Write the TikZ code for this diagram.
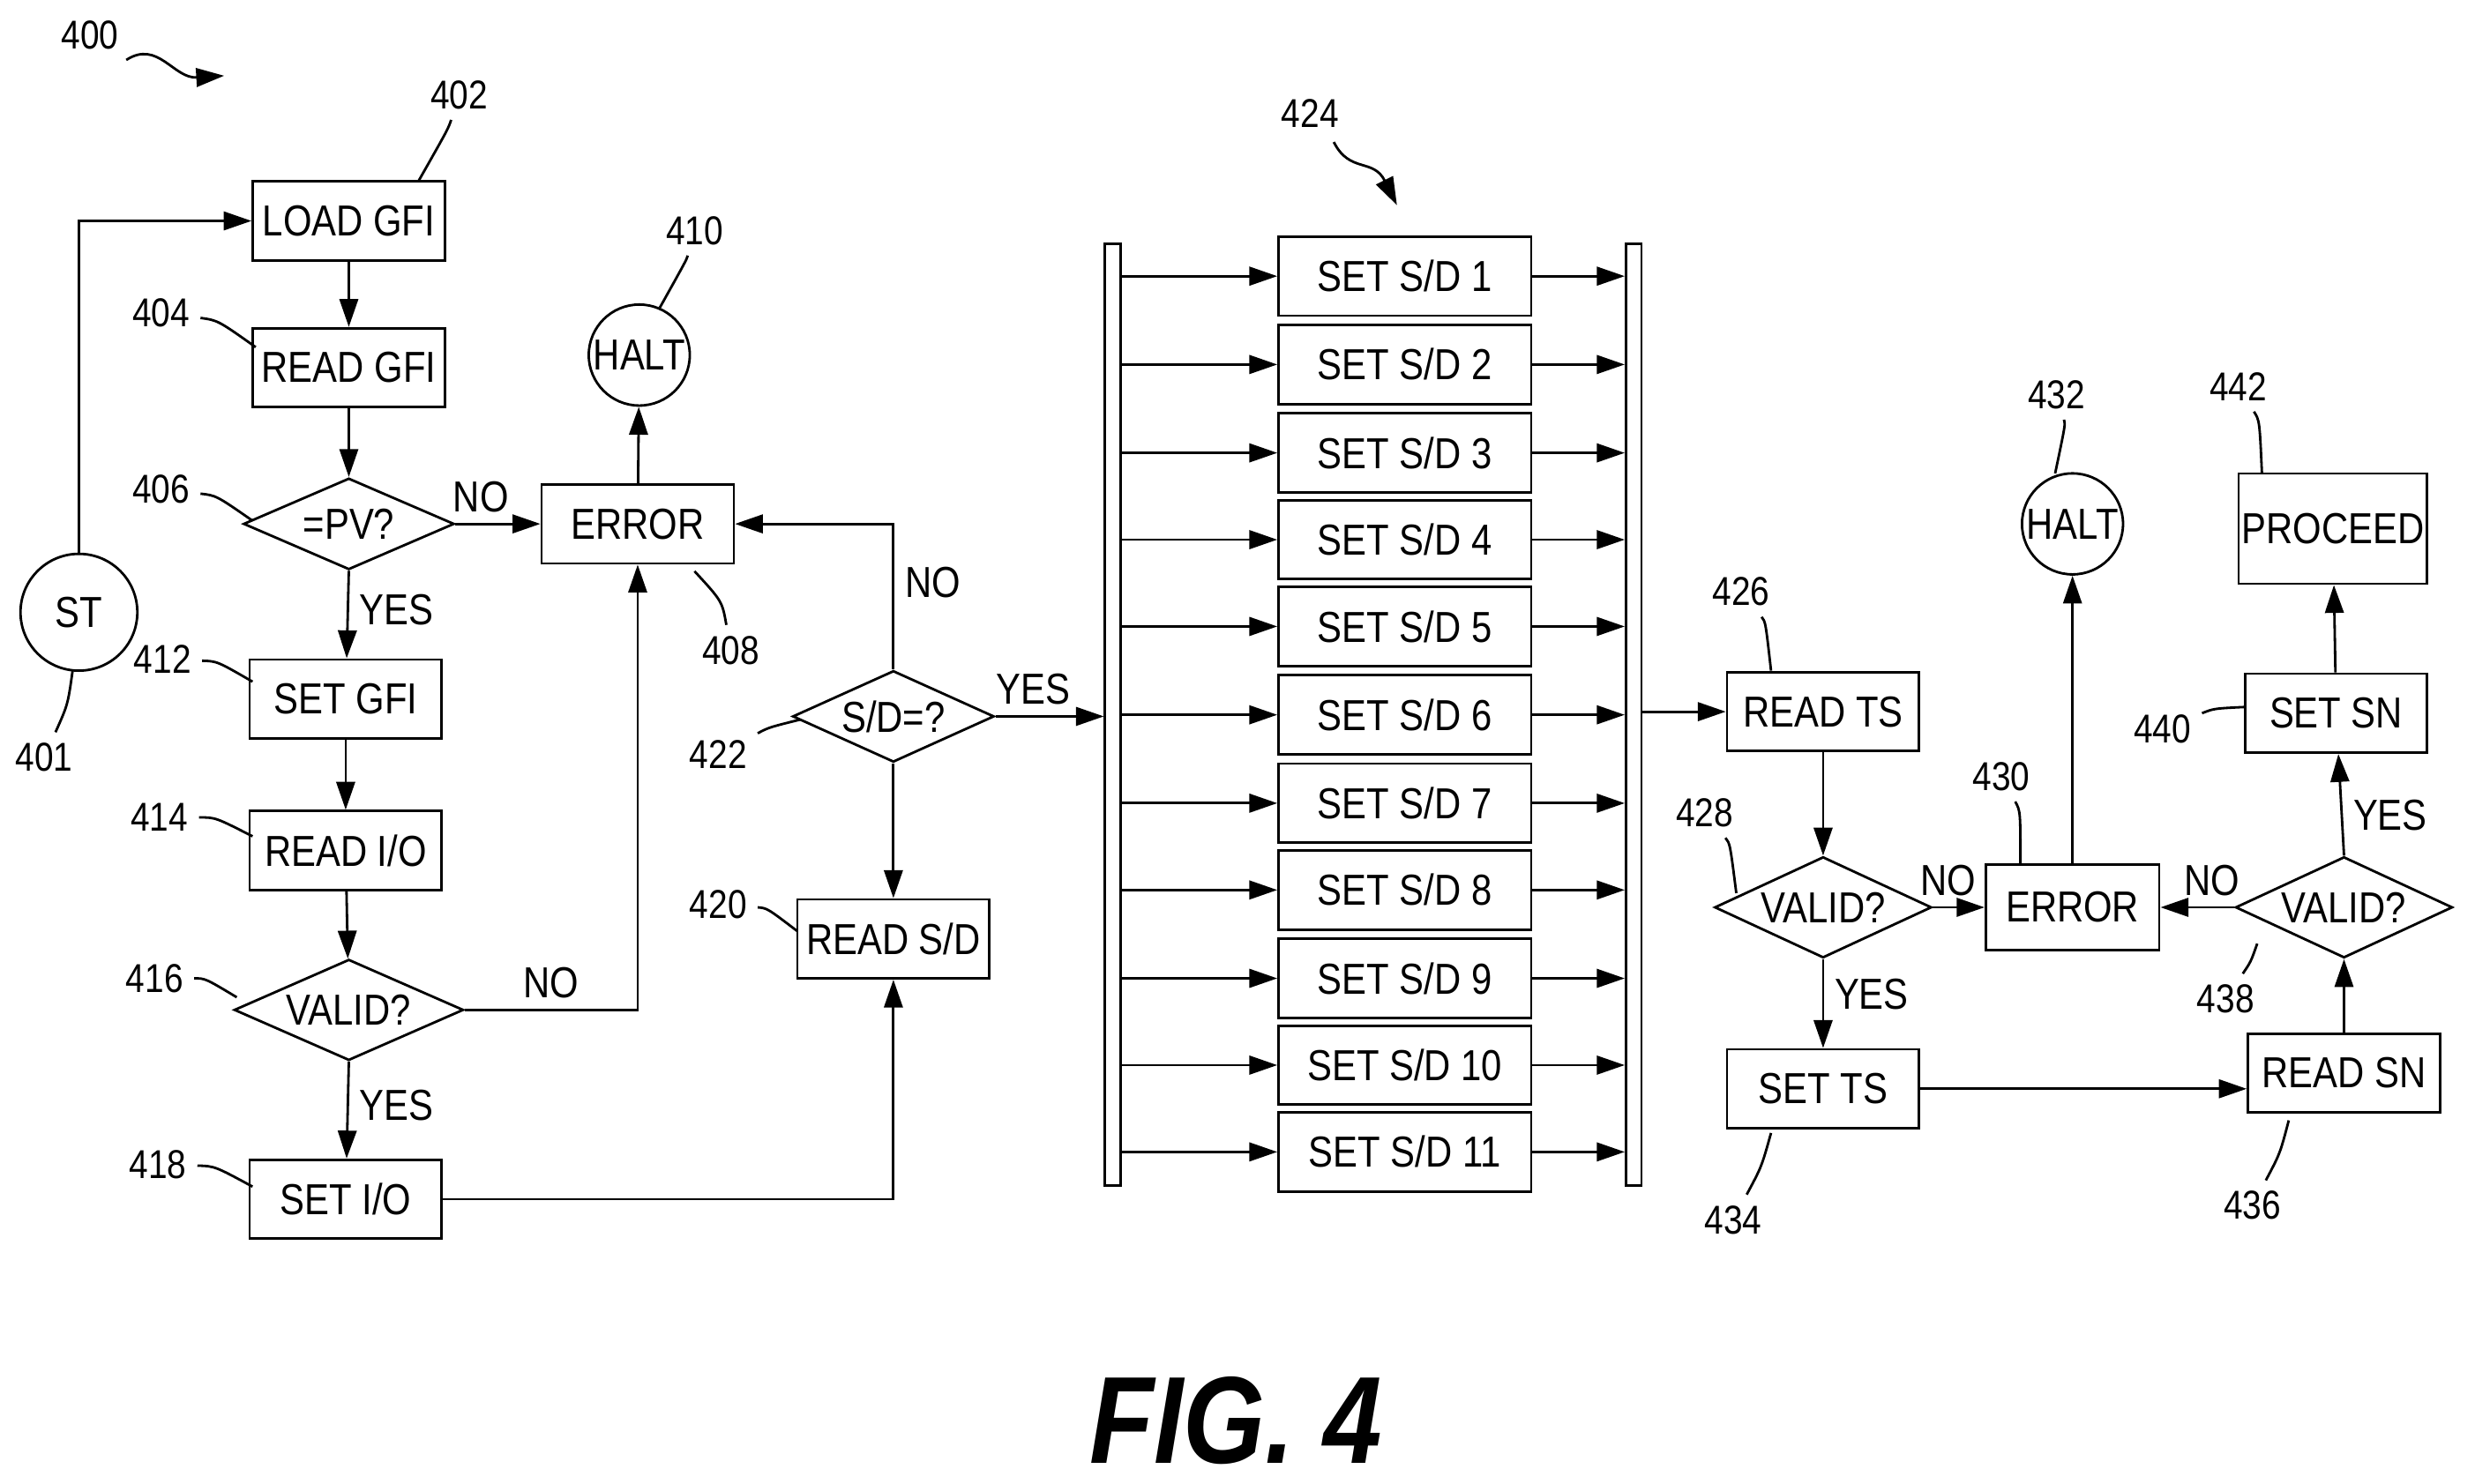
\documentclass[tikz,border=0pt]{standalone}
\usepackage{fontspec}
\setmainfont{Liberation Sans}[FakeStretch=0.85]
\usetikzlibrary{shapes.geometric,arrows.meta,calc}
\tikzset{
  box/.style={draw, thick, minimum width=62pt, minimum height=25.5pt, inner sep=1pt, font=\fontsize{14}{16}\selectfont},
  dec/.style={draw, thick, diamond, aspect=2.3, minimum width=68pt, minimum height=29.5pt, inner sep=0pt, font=\fontsize{14}{16}\selectfont},
  term/.style={draw, thick, circle, minimum size=32.6pt, inner sep=0pt, font=\fontsize{14}{16}\selectfont},
  flow/.style={thick, -{Triangle[length=9pt,width=6pt]}},
  lead/.style={thick},
  lbl/.style={font=\fontsize{13}{15}\selectfont},
  yn/.style={font=\fontsize{14}{16}\selectfont}
}
\begin{document}
\begin{tikzpicture}[x=0.017895cm, y=-0.017895cm]
  \useasboundingbox (0,0) rectangle (1568,940);
  % left column
  \node[term, minimum size=37.7pt] (st) at (50,388) {ST};
  \node[box] (loadgfi) at (221,140) {LOAD GFI};
  \node[box] (readgfi) at (221,233) {READ GFI};
  \node[dec] (pv) at (221,332) {=PV?};
  \node[box] (err1) at (404,332) {ERROR};
  \node[term] (halt1) at (405,225) {HALT};
  \node[box] (setgfi) at (219,443) {SET GFI};
  \node[box] (readio) at (219,539) {READ I/O};
  \node[dec, minimum width=74pt, minimum height=32.6pt] (valid1) at (221,640) {VALID?};
  \node[box] (setio) at (219,760) {SET I/O};
  \node[dec, minimum width=65pt] (sd) at (566,454) {S/D=?};
  \node[box] (readsd) at (566,595) {READ S/D};
  % bus
  \node[draw, thick, minimum width=5pt, minimum height=304pt, inner sep=0pt] (busl) at (705,453) {};
  \node[draw, thick, minimum width=5pt, minimum height=304pt, inner sep=0pt] (busr) at (1035,453) {};
  \foreach \i/\y in {1/175,2/231,3/287,4/342,5/397,6/453,7/509,8/564,9/620,10/675,11/730} {
    \node[box, minimum width=81.5pt, minimum height=25.5pt] (sd\i) at (890,\y) {SET S/D \i};
    \draw[flow] (busl.east |- sd\i) -- (sd\i);
    \draw[flow] (sd\i) -- (busr.west |- sd\i);
  }
  % right part
  \node[box] (readts) at (1155,451) {READ TS};
  \node[dec, minimum width=70pt, minimum height=32.6pt] (valid2) at (1155,575) {VALID?};
  \node[box] (setts) at (1155,690) {SET TS};
  \node[box, minimum width=56pt, minimum height=27.5pt] (err2) at (1313,575) {ERROR};
  \node[term] (halt2) at (1313,332) {HALT};
  \node[dec, minimum width=70pt, minimum height=32.6pt] (valid3) at (1485,575) {VALID?};
  \node[box] (readsn) at (1485,680) {READ SN};
  \node[box, minimum width=58.5pt] (setsn) at (1480,452) {SET SN};
  \node[box, minimum width=56pt, minimum height=35.6pt] (proceed) at (1478,335) {PROCEED};
  % connectors
  \draw[flow] (st.north) |- (loadgfi.west);
  \draw[flow] (loadgfi) -- (readgfi);
  \draw[flow] (readgfi) -- (pv);
  \draw[flow] (pv.east) -- node[yn, above, pos=0.3] {NO} (err1.west);
  \draw[flow] (pv.south) -- node[yn, right, pos=0.45] {YES} (setgfi);
  \draw[flow] (err1) -- (halt1);
  \draw[flow] (setgfi) -- (readio);
  \draw[flow] (readio) -- (valid1);
  \draw[flow] (valid1.east) -| node[yn, above, pos=0.25] {NO} (err1.south);
  \draw[flow] (valid1.south) -- node[yn, right, pos=0.45] {YES} (setio);
  \draw[flow] (setio.east) -| (readsd.south);
  \draw[flow] (sd.north) |- node[yn, right, pos=0.3] {NO} (err1.east);
  \draw[flow] (sd.south) -- (readsd);
  \draw[flow] (sd.east) -- node[yn, above, pos=0.35] {YES} (busl.west |- sd);
  \draw[flow] (busr.east |- readts) -- (readts);
  \draw[flow] (readts) -- (valid2);
  \draw[flow] (valid2.east) -- node[yn, above, pos=0.3] {NO} (err2.west);
  \draw[flow] (valid2.south) -- node[yn, right, pos=0.4] {YES} (setts);
  \draw[flow] (err2) -- (halt2);
  \draw[flow] (setts.east) -- (readsn.west |- setts);
  \draw[flow] (readsn) -- (valid3);
  \draw[flow] (valid3.west) -- node[yn, above, pos=0.3] {NO} (err2.east);
  \draw[flow] (valid3.north) -- node[yn, right, pos=0.4] {YES} (setsn);
  \draw[flow] (setsn) -- (proceed);
  % reference numerals
  \node[lbl] (n400) at (57,22) {400};
  \draw[thick, -{Triangle[length=9pt,width=6pt]}] (80,38) .. controls (100,25) and (110,50) .. (142,48);
  \node[lbl] (n424) at (830,72) {424};
  \draw[thick, -{Triangle[length=9pt,width=6pt]}] (845,90) .. controls (855,110) and (870,100) .. (885,130);
  \foreach \t/\lx/\ly/\ax/\ay in {402/291/60/265/115, 404/102/198/162/220, 406/102/310/160/330,
      410/440/146/418/195, 408/463/412/440/362, 401/28/480/46/425, 412/103/418/160/432,
      414/101/518/160/530, 416/98/620/150/632, 418/100/738/160/752, 422/455/478/507/456,
      420/455/573/505/590, 426/1103/375/1122/425, 428/1080/515/1100/566, 430/1268/492/1280/548,
      432/1303/250/1302/300, 442/1418/245/1433/300, 440/1370/462/1423/448, 438/1410/633/1430/598,
      436/1427/764/1450/710, 434/1098/773/1122/718} {
    \node[lbl] (ref\t) at (\lx,\ly) {\t};
    \draw[lead] (ref\t) .. controls ($(ref\t)!0.5!(\ax,\ay)+(6,-6)$) .. (\ax,\ay);
  }
  \node[font=\fontsize{40}{44}\selectfont\bfseries\itshape] (fig) at (783,900) {FIG. 4};
\end{tikzpicture}
\end{document}
